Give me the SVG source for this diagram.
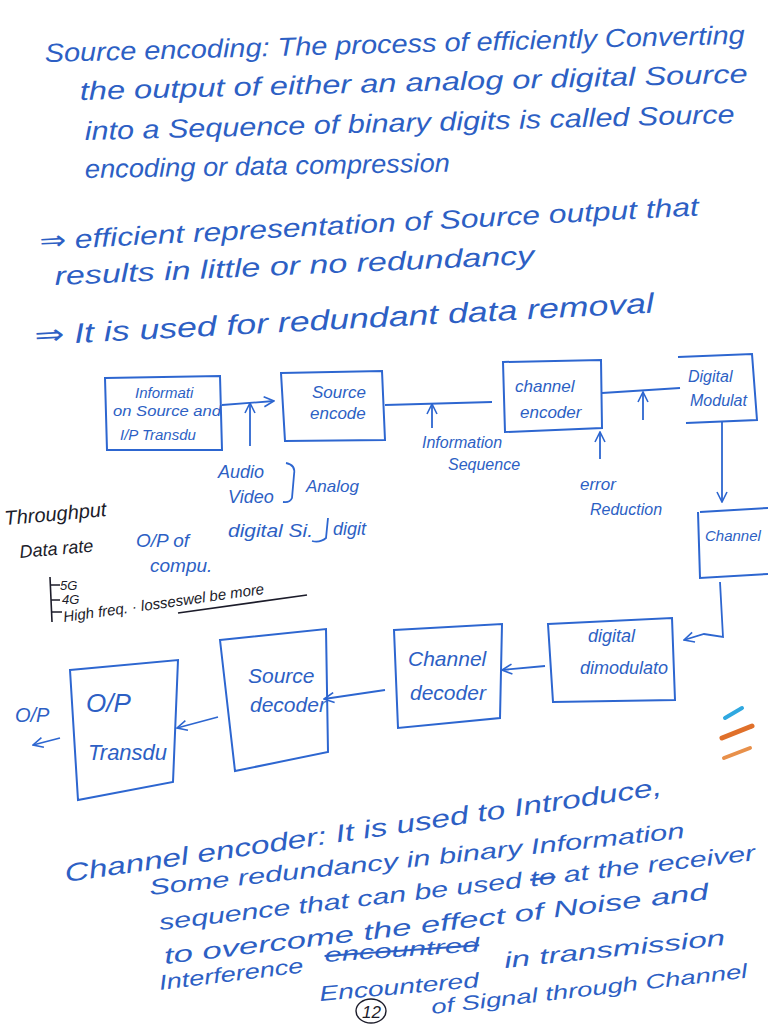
<svg xmlns="http://www.w3.org/2000/svg" width="768" height="1024" viewBox="0 0 768 1024">
<style>
  .t{font-family:"Liberation Sans","DejaVu Sans",sans-serif;font-style:italic;fill:#2d5fc4}
  .k{font-family:"Liberation Sans","DejaVu Sans",sans-serif;font-style:italic;fill:#1c1c2a}
  .box{fill:none;stroke:#2d66d0;stroke-width:2}
  .ln{fill:none;stroke:#2d66d0;stroke-width:1.8}
  .kl{fill:none;stroke:#1c1c2a;stroke-width:1.6}
</style>
<defs>
  <marker id="ah" viewBox="0 0 12 12" refX="11" refY="6" markerWidth="12" markerHeight="12" markerUnits="userSpaceOnUse" orient="auto">
    <path d="M1,1 L11,6 L1,11" fill="none" stroke="#2d66d0" stroke-width="1.6"/>
  </marker>
</defs>
<rect width="768" height="1024" fill="#ffffff"/>

<!-- header text -->
<g id="intro">
  <text class="t" font-size="26" x="45" y="62" textLength="700" lengthAdjust="spacingAndGlyphs" transform="rotate(-1.5 45 62)">Source encoding: The process of efficiently Converting</text>
  <text class="t" font-size="26" x="80" y="100" textLength="668" lengthAdjust="spacingAndGlyphs" transform="rotate(-1.5 80 100)">the output of either an analog or digital Source</text>
  <text class="t" font-size="26" x="85" y="140" textLength="650" lengthAdjust="spacingAndGlyphs" transform="rotate(-1.5 85 140)">into a Sequence of binary digits is called Source</text>
  <text class="t" font-size="26" x="85" y="178" textLength="365" lengthAdjust="spacingAndGlyphs" transform="rotate(-1 85 178)">encoding or data compression</text>
  <text class="t" font-size="26" x="40" y="250" textLength="660" lengthAdjust="spacingAndGlyphs" transform="rotate(-3 40 250)">⇒ efficient representation of Source output that</text>
  <text class="t" font-size="26" x="55" y="285" textLength="480" lengthAdjust="spacingAndGlyphs" transform="rotate(-2.5 55 285)">results in little or no redundancy</text>
  <text class="t" font-size="28" x="35" y="345" textLength="620" lengthAdjust="spacingAndGlyphs" transform="rotate(-3 35 345)">⇒ It is used for redundant data removal</text>
</g>

<!-- connectors -->
<g id="connectors">
  <line class="ln" x1="222" y1="405" x2="274" y2="401" marker-end="url(#ah)"/>
  <line class="ln" x1="250" y1="446" x2="250" y2="403" marker-end="url(#ah)"/>
  <line class="ln" x1="385" y1="405" x2="492" y2="402"/>
  <line class="ln" x1="432" y1="428" x2="432" y2="404" marker-end="url(#ah)"/>
  <line class="ln" x1="602" y1="393" x2="680" y2="388"/>
  <line class="ln" x1="643" y1="420" x2="643" y2="392" marker-end="url(#ah)"/>
  <line class="ln" x1="600" y1="459" x2="600" y2="432" marker-end="url(#ah)"/>
  <line class="ln" x1="722" y1="422" x2="722" y2="502" marker-end="url(#ah)"/>
  <polyline class="ln" points="720,582 723,637 704,634 684,640" marker-end="url(#ah)"/>
  <line class="ln" x1="545" y1="666" x2="502" y2="670" marker-end="url(#ah)"/>
  <line class="ln" x1="385" y1="690" x2="324" y2="699" marker-end="url(#ah)"/>
  <line class="ln" x1="218" y1="717" x2="177" y2="728" marker-end="url(#ah)"/>
  <line class="ln" x1="60" y1="738" x2="33" y2="745" marker-end="url(#ah)"/>
</g>

<!-- nodes -->
<g id="n-info-source">
  <path class="box" d="M105,378 L220,376 L222,450 L107,450 Z"/>
  <text class="t" font-size="15" x="135" y="398">Informati</text>
  <text class="t" font-size="15" x="113" y="416" textLength="108" lengthAdjust="spacingAndGlyphs">on Source and</text>
  <text class="t" font-size="15" x="120" y="440">I/P Transdu</text>
</g>
<g id="n-source-encoder">
  <path class="box" d="M281,373 L382,371 L385,440 L285,441 Z"/>
  <text class="t" font-size="17" x="312" y="398">Source</text>
  <text class="t" font-size="17" x="310" y="419">encode</text>
</g>
<g id="n-channel-encoder">
  <path class="box" d="M503,362 L601,360 L602,428 L505,432 Z"/>
  <text class="t" font-size="17" x="515" y="392">channel</text>
  <text class="t" font-size="17" x="520" y="418">encoder</text>
</g>
<g id="n-digital-modulator">
  <path class="box" d="M678,357 L752,354 L757,420 L686,423"/>
  <text class="t" font-size="16" x="688" y="382">Digital</text>
  <text class="t" font-size="16" x="690" y="406">Modulat</text>
</g>
<g id="n-channel">
  <path class="box" d="M700,512 L768,508 M698,512 L700,578 L768,574"/>
  <text class="t" font-size="15" x="705" y="541">Channel</text>
</g>
<g id="n-digital-demodulator">
  <path class="box" d="M548,624 L672,618 L675,700 L553,702 Z"/>
  <text class="t" font-size="18" x="588" y="642">digital</text>
  <text class="t" font-size="18" x="580" y="674">dimodulato</text>
</g>
<g id="n-channel-decoder">
  <path class="box" d="M394,630 L502,624 L500,718 L398,728 Z"/>
  <text class="t" font-size="21" x="408" y="666">Channel</text>
  <text class="t" font-size="21" x="410" y="700">decoder</text>
</g>
<g id="n-source-decoder">
  <path class="box" d="M220,640 L326,629 L328,752 L235,771 Z"/>
  <text class="t" font-size="21" x="248" y="683">Source</text>
  <text class="t" font-size="21" x="250" y="712">decoder</text>
</g>
<g id="n-op-transducer">
  <path class="box" d="M70,670 L178,660 L173,782 L78,800 Z"/>
  <text class="t" font-size="26" x="86" y="712">O/P</text>
  <text class="t" font-size="22" x="88" y="760">Transdu</text>
</g>

<!-- annotations -->
<g id="labels">
  <text class="t" font-size="16" x="422" y="448">Information</text>
  <text class="t" font-size="16" x="448" y="470">Sequence</text>
  <text class="t" font-size="17" x="580" y="490">error</text>
  <text class="t" font-size="16" x="590" y="515">Reduction</text>
  <text class="t" font-size="18" x="218" y="478">Audio</text>
  <text class="t" font-size="18" x="228" y="503">Video</text>
  <path class="ln" d="M286,463 Q296,465 294,475 L292,498 Q290,503 283,502"/>
  <text class="t" font-size="17" x="306" y="492">Analog</text>
  <text class="t" font-size="18" x="228" y="537" textLength="85" lengthAdjust="spacingAndGlyphs">digital Si.</text>
  <path class="ln" d="M328,518 L326,538 Q320,543 312,541"/>
  <text class="t" font-size="18" x="333" y="535">digit</text>
  <text class="t" font-size="19" x="136" y="547">O/P of</text>
  <text class="t" font-size="19" x="150" y="572">compu.</text>
  <text class="k" font-size="20" x="5" y="525" transform="rotate(-5 5 525)">Throughput</text>
  <text class="k" font-size="18" x="20" y="558" transform="rotate(-5 20 558)">Data rate</text>
  <path class="kl" d="M50,577 L52,622 M50,585 L60,585 M51,600 L60,600 M52,612 L62,612"/>
  <text class="k" font-size="13" x="60" y="590">5G</text>
  <text class="k" font-size="13" x="62" y="604">4G</text>
  <text class="k" font-size="15" x="64" y="622" transform="rotate(-8 64 622)">High freq. · losseswel be more</text>
  <line class="kl" x1="178" y1="613" x2="307" y2="595"/>
  <text class="t" font-size="20" x="15" y="722">O/P</text>
</g>

<!-- colour smudges -->
<g id="smudges" stroke-linecap="round" fill="none">
  <path d="M725,718 L742,708" stroke="#2fa8e0" stroke-width="4"/>
  <path d="M722,738 L752,726" stroke="#e0702a" stroke-width="5"/>
  <path d="M724,758 L750,748" stroke="#e8904a" stroke-width="4"/>
</g>

<!-- footer text -->
<g id="channel-encoder-note">
  <text class="t" font-size="25" x="66" y="882" textLength="603" lengthAdjust="spacingAndGlyphs" transform="rotate(-8.3 66 882)">Channel encoder: It is used to Introduce,</text>
  <text class="t" font-size="22" x="150" y="895" textLength="538" lengthAdjust="spacingAndGlyphs" transform="rotate(-6.1 150 895)">Some redundancy in binary Information</text>
  <text class="t" font-size="22" x="160" y="930" textLength="600" lengthAdjust="spacingAndGlyphs" transform="rotate(-6.7 160 930)">sequence that can be used <tspan text-decoration="line-through">to</tspan> at the receiver</text>
  <text class="t" font-size="23" x="165" y="964" textLength="548" lengthAdjust="spacingAndGlyphs" transform="rotate(-6.8 165 964)">to overcome the effect of Noise and</text>
  <text class="t" font-size="21" x="160" y="990" textLength="145" lengthAdjust="spacingAndGlyphs" transform="rotate(-7 160 990)">Interference</text>
  <text class="t" font-size="20" x="325" y="962" textLength="155" lengthAdjust="spacingAndGlyphs" text-decoration="line-through" transform="rotate(-4 325 962)">encountred</text>
  <text class="t" font-size="22" x="505" y="968" textLength="222" lengthAdjust="spacingAndGlyphs" transform="rotate(-6 505 968)">in transmission</text>
  <text class="t" font-size="21" x="320" y="1001" textLength="160" lengthAdjust="spacingAndGlyphs" transform="rotate(-5 320 1001)">Encountered</text>
  <text class="t" font-size="20" x="432" y="1014" textLength="318" lengthAdjust="spacingAndGlyphs" transform="rotate(-6.6 432 1014)">of Signal through Channel</text>
  <ellipse cx="371" cy="1011" rx="15" ry="12" fill="none" stroke="#1c1c2a" stroke-width="1.4"/>
  <text class="k" font-size="17" x="362" y="1018">12</text>
</g>
</svg>
